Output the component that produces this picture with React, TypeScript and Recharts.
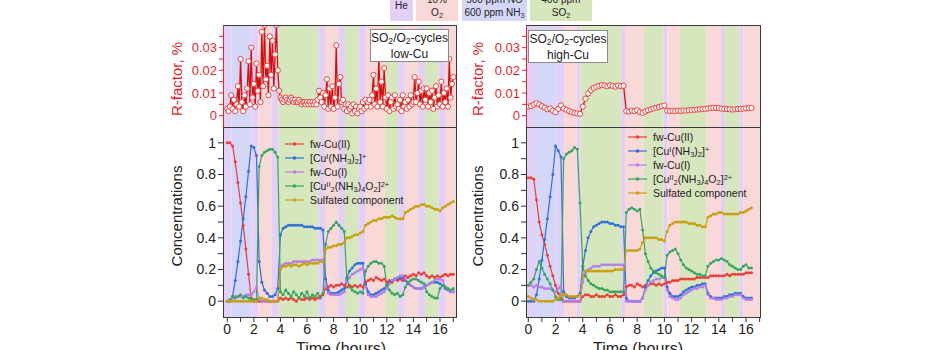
import React from 'react';
import { ComposedChart, Line, XAxis, YAxis, ReferenceArea } from 'recharts';

const FONT = '"Liberation Sans", Arial, Helvetica, sans-serif';

const RED = '#ef3b36';
const BLUE = '#2f6fdc';
const PURPLE = '#b67ee8';
const GREEN = '#34a65e';
const GOLD = '#c8a00c';
const RF_RED = '#e3262c';

const GAS_COLORS: Record<string, string> = {
  He: '#e2d0f6',
  O2: '#f9d9d8',
  NO: '#d4d7f7',
  SO2: '#d6e6bd',
};

// sampling interval of the fitted spectra, hours
const CONC_STEP = 0.2;
const R_LOW_STEP = 0.1;
const R_HIGH_STEP = 0.2;

// ---- low-Cu ----
const lowBandEdges = [-0.32, 0.33, 1.83, 2.33, 3.33, 3.84, 6.85, 7.35, 8.35, 8.86, 9.86, 10.36, 11.86, 12.86, 13.36, 14.37, 14.87, 15.88, 16.38, 17.28];
const lowBandGas = ['He', 'NO', 'He', 'O2', 'He', 'SO2', 'He', 'O2', 'He', 'SO2', 'He', 'O2', 'SO2', 'He', 'O2', 'He', 'SO2', 'He', 'O2'];

const lowR = [
  0.003, 0.002, 0.004, 0.009, 0.003, 0.007, 0.002, 0.005, 0.013, 0.004,
  0.025, 0.006, 0.002, 0.009, 0.004, 0.012, 0.024, 0.005, 0.030, 0.008,
  0.014, 0.004, 0.023, 0.011, 0.018, 0.006, 0.037, 0.013, 0.040, 0.016,
  0.022, 0.009, 0.035, 0.018, 0.033, 0.012, 0.027, 0.040, 0.020, 0.011,
  0.008, 0.007, 0.006, 0.007, 0.008, 0.007, 0.006, 0.007, 0.008, 0.007,
  0.006, 0.007, 0.006, 0.006, 0.007, 0.006, 0.005, 0.006, 0.006, 0.005,
  0.006, 0.005, 0.006, 0.005, 0.006, 0.005, 0.006, 0.005, 0.007, 0.011,
  0.008, 0.006, 0.010, 0.004, 0.009, 0.016, 0.003, 0.012, 0.004, 0.013,
  0.003, 0.008, 0.031, 0.004, 0.014, 0.017, 0.006, 0.007, 0.003, 0.005,
  0.002, 0.005, 0.003, 0.004, 0.001, 0.005, 0.002, 0.004, 0.001, 0.003,
  0.004, 0.002, 0.006, 0.003, 0.007, 0.004, 0.006, 0.007, 0.004, 0.009,
  0.018, 0.005, 0.012, 0.004, 0.026, 0.006, 0.015, 0.004, 0.021, 0.008,
  0.003, 0.009, 0.002, 0.006, 0.008, 0.003, 0.009, 0.004, 0.005, 0.003,
  0.007, 0.002, 0.009, 0.004, 0.006, 0.003, 0.007, 0.004, 0.009, 0.005,
  0.006, 0.017, 0.006, 0.010, 0.015, 0.005, 0.011, 0.004, 0.012, 0.007,
  0.012, 0.004, 0.010, 0.006, 0.011, 0.003, 0.008, 0.013, 0.004, 0.009,
  0.005, 0.015, 0.004, 0.010, 0.006, 0.012, 0.004, 0.025, 0.008, 0.014,
  0.017,
];

const lowCu2 = [
  1.00, 1.00, 0.98, 0.88, 0.75, 0.62, 0.48, 0.33, 0.17, 0.02, 0.00, 0.00, 0.00, 0.00, 0.00, 0.00, 0.00, 0.00, 0.00, 0.00,
  0.02, 0.01, 0.02, 0.01, 0.02, 0.01, 0.00, 0.02, 0.01, 0.01, 0.02, 0.01, 0.02, 0.01, 0.02, 0.03, 0.04,
  0.08, 0.09, 0.10, 0.09, 0.10, 0.10, 0.11, 0.10,
  0.09, 0.10, 0.09, 0.10, 0.09, 0.10, 0.09,
  0.12, 0.13, 0.14, 0.13, 0.15, 0.14, 0.13, 0.14,
  0.12, 0.13, 0.12, 0.14, 0.13, 0.14, 0.13,
  0.16, 0.15, 0.16, 0.17, 0.16, 0.18, 0.17, 0.18,
  0.16, 0.15, 0.16, 0.15, 0.16,
  0.15, 0.16, 0.17, 0.16, 0.17, 0.17,
];
const lowCuNH3 = [
  0.00, 0.00, 0.03, 0.13, 0.25, 0.38, 0.52, 0.66, 0.82, 0.98, 0.97, 0.92, 0.25, 0.12, 0.07, 0.05, 0.03, 0.03, 0.04, 0.08,
  0.42, 0.46, 0.47, 0.48, 0.48, 0.48, 0.48, 0.48, 0.48, 0.47, 0.47, 0.47, 0.47, 0.46, 0.46, 0.46, 0.45,
  0.14, 0.07, 0.05, 0.05, 0.05, 0.06, 0.07, 0.08,
  0.15, 0.19, 0.21, 0.23, 0.24, 0.24, 0.24,
  0.11, 0.06, 0.04, 0.04, 0.05, 0.06, 0.07, 0.08,
  0.10, 0.12, 0.13, 0.14, 0.14, 0.15, 0.15,
  0.13, 0.11, 0.10, 0.09, 0.08, 0.08, 0.08, 0.09,
  0.10, 0.11, 0.12, 0.12, 0.12,
  0.11, 0.10, 0.08, 0.07, 0.06, 0.06,
];
const lowCu1 = [
  0.00, 0.00, 0.02, 0.03, 0.03, 0.03, 0.03, 0.04, 0.04, 0.04, 0.06, 0.09, 0.01, 0.00, 0.00, 0.00, 0.00, 0.00, 0.00, 0.00,
  0.22, 0.23, 0.24, 0.24, 0.24, 0.25, 0.25, 0.25, 0.25, 0.25, 0.25, 0.25, 0.26, 0.26, 0.26, 0.26, 0.26,
  0.09, 0.05, 0.04, 0.04, 0.04, 0.04, 0.05, 0.06,
  0.12, 0.15, 0.17, 0.18, 0.19, 0.20, 0.21,
  0.09, 0.04, 0.03, 0.03, 0.03, 0.04, 0.05, 0.06,
  0.08, 0.11, 0.13, 0.14, 0.15, 0.16, 0.16,
  0.14, 0.12, 0.10, 0.09, 0.08, 0.08, 0.08, 0.09,
  0.10, 0.11, 0.12, 0.13, 0.14,
  0.14, 0.13, 0.09, 0.07, 0.06, 0.06,
];
const lowCuO2 = [
  0.00, 0.01, 0.03, 0.02, 0.03, 0.04, 0.02, 0.03, 0.02, 0.01, 0.01, 0.01, 0.85, 0.92, 0.94, 0.95, 0.96, 0.96, 0.94, 0.91,
  0.06, 0.04, 0.07, 0.05, 0.03, 0.06, 0.04, 0.02, 0.05, 0.03, 0.06, 0.02, 0.04, 0.03, 0.05, 0.02, 0.05,
  0.36, 0.44, 0.46, 0.48, 0.50, 0.48, 0.46, 0.44,
  0.14, 0.09, 0.07, 0.06, 0.05, 0.06, 0.05,
  0.19, 0.22, 0.24, 0.25, 0.25, 0.24, 0.24, 0.22,
  0.10, 0.07, 0.05, 0.04, 0.05, 0.03, 0.04,
  0.09, 0.12, 0.13, 0.14, 0.14, 0.13, 0.12, 0.11,
  0.06, 0.04, 0.03, 0.02, 0.02,
  0.08, 0.10, 0.09, 0.08, 0.07, 0.08,
];
const lowSulf = [
  0.00, 0.00, 0.00, 0.00, 0.00, 0.00, 0.00, 0.00, 0.00, 0.00, 0.00, 0.00, 0.02, 0.02, 0.01, 0.01, 0.00, 0.00, 0.00, 0.00,
  0.20, 0.22, 0.22, 0.23, 0.22, 0.23, 0.23, 0.22, 0.23, 0.24, 0.23, 0.24, 0.24, 0.24, 0.24, 0.25, 0.25,
  0.33, 0.34, 0.34, 0.35, 0.35, 0.36, 0.36, 0.37,
  0.40, 0.40, 0.41, 0.42, 0.42, 0.43, 0.44,
  0.48, 0.49, 0.50, 0.51, 0.51, 0.52, 0.52, 0.53,
  0.53, 0.53, 0.54, 0.53, 0.52, 0.52, 0.52,
  0.56, 0.57, 0.58, 0.59, 0.60, 0.60, 0.61, 0.61,
  0.60, 0.60, 0.59, 0.58, 0.58,
  0.57, 0.59, 0.60, 0.61, 0.62, 0.63,
];

// ---- high-Cu ----
const hiBandEdges = [-0.17, 0.57, 2.09, 2.63, 3.56, 3.85, 6.82, 7.11, 8.46, 9.93, 10.22, 11.15, 13.07, 14.15, 14.46, 15.51, 15.8, 17.1];
const hiBandGas = ['He', 'NO', 'He', 'O2', 'He', 'SO2', 'He', 'O2', 'SO2', 'He', 'O2', 'SO2', 'O2', 'He', 'SO2', 'He', 'O2'];

const hiR = [
  0.0040, 0.0042, 0.0048, 0.0055, 0.0050, 0.0042, 0.0035, 0.0028, 0.0032, 0.0022,
  0.0015, 0.0030, 0.0045, 0.0032, 0.0026, 0.0020, 0.0015, 0.0012, 0.0010, 0.0008,
  0.0040, 0.0075, 0.0098, 0.0112, 0.0122, 0.0128, 0.0132, 0.0135, 0.0133, 0.0130,
  0.0134, 0.0131, 0.0128, 0.0133, 0.0130, 0.0132, 0.0020, 0.0018, 0.0022, 0.0020,
  0.0024, 0.0016, 0.0012, 0.0018, 0.0024, 0.0028, 0.0032, 0.0035, 0.0038, 0.0042,
  0.0045, 0.0022, 0.0020, 0.0021, 0.0020, 0.0022, 0.0021, 0.0023, 0.0022, 0.0024,
  0.0025, 0.0026, 0.0027, 0.0028, 0.0029, 0.0030, 0.0032, 0.0034, 0.0035, 0.0034,
  0.0033, 0.0031, 0.0030, 0.0029, 0.0028, 0.0027, 0.0028, 0.0029, 0.0030, 0.0031,
  0.0032, 0.0033, 0.0034,
];

const hiCu2 = [
  0.78, 0.78, 0.77, 0.64, 0.50, 0.42, 0.36, 0.29, 0.22, 0.16, 0.10, 0.05, 0.02, 0.00, 0.00, 0.00, 0.00, 0.00, 0.00, 0.00,
  0.03, 0.04, 0.04, 0.03, 0.03, 0.04, 0.03, 0.03, 0.03, 0.04, 0.03, 0.03, 0.04, 0.03, 0.03, 0.04,
  0.09, 0.10, 0.10, 0.09, 0.11, 0.10,
  0.09, 0.10, 0.10, 0.11, 0.11, 0.10, 0.11, 0.10, 0.11,
  0.12, 0.12, 0.13, 0.13, 0.13, 0.14, 0.14, 0.14, 0.14, 0.14, 0.14, 0.15, 0.15, 0.15, 0.15,
  0.15, 0.16, 0.16, 0.16, 0.16, 0.16, 0.16, 0.17, 0.16, 0.17, 0.17, 0.17, 0.17, 0.17, 0.18, 0.18, 0.18,
];
const hiCuNH3 = [
  0.00, 0.00, 0.00, 0.04, 0.14, 0.26, 0.39, 0.52, 0.66, 0.80, 0.98, 0.95, 0.91, 0.06, 0.03, 0.02, 0.02, 0.02, 0.03, 0.05,
  0.22, 0.32, 0.40, 0.44, 0.47, 0.48, 0.49, 0.50, 0.50, 0.50, 0.49, 0.49, 0.48, 0.48, 0.47, 0.47,
  0.02, 0.00, 0.00, 0.00, 0.00, 0.00,
  0.02, 0.09, 0.13, 0.16, 0.18, 0.19, 0.20, 0.21, 0.21,
  0.09, 0.05, 0.03, 0.03, 0.03, 0.04, 0.06, 0.07, 0.08, 0.09, 0.09, 0.10, 0.10, 0.11, 0.11,
  0.05, 0.03, 0.02, 0.02, 0.02, 0.02, 0.03, 0.03, 0.04, 0.04, 0.05, 0.05, 0.05, 0.03, 0.02, 0.02, 0.02,
];
const hiCu1 = [
  0.10, 0.10, 0.09, 0.10, 0.09, 0.09, 0.08, 0.08, 0.08, 0.07, 0.06, 0.08, 0.10, 0.00, 0.00, 0.00, 0.00, 0.00, 0.00, 0.00,
  0.12, 0.18, 0.20, 0.21, 0.22, 0.22, 0.22, 0.23, 0.23, 0.23, 0.23, 0.23, 0.23, 0.23, 0.23, 0.23,
  0.00, 0.00, 0.00, 0.00, 0.00, 0.00,
  0.02, 0.07, 0.10, 0.12, 0.13, 0.14, 0.14, 0.15, 0.15,
  0.07, 0.03, 0.02, 0.01, 0.01, 0.02, 0.04, 0.05, 0.06, 0.07, 0.08, 0.08, 0.09, 0.09, 0.10,
  0.04, 0.02, 0.02, 0.01, 0.01, 0.01, 0.02, 0.02, 0.03, 0.03, 0.04, 0.04, 0.04, 0.02, 0.01, 0.01, 0.01,
];
const hiCuO2 = [
  0.10, 0.12, 0.14, 0.20, 0.25, 0.21, 0.17, 0.14, 0.11, 0.07, 0.03, 0.01, 0.01, 0.90, 0.93, 0.94, 0.95, 0.97, 0.96, 0.62,
  0.22, 0.16, 0.13, 0.11, 0.10, 0.09, 0.08, 0.08, 0.07, 0.07, 0.06, 0.06, 0.06, 0.06, 0.06, 0.06,
  0.56, 0.58, 0.59, 0.58, 0.57, 0.58,
  0.45, 0.30, 0.25, 0.21, 0.19, 0.18, 0.17, 0.16, 0.15,
  0.29, 0.31, 0.32, 0.33, 0.30, 0.26, 0.23, 0.21, 0.20, 0.19, 0.18, 0.17, 0.17, 0.16, 0.16,
  0.22, 0.24, 0.25, 0.26, 0.26, 0.27, 0.26, 0.25, 0.23, 0.22, 0.21, 0.20, 0.20, 0.22, 0.23, 0.21, 0.21,
];
const hiSulf = [
  0.03, 0.02, 0.01, 0.01, 0.00, 0.00, 0.00, 0.00, 0.00, 0.00, 0.01, 0.02, 0.03, 0.04, 0.04, 0.03, 0.03, 0.03, 0.03, 0.04,
  0.16, 0.19, 0.19, 0.19, 0.19, 0.19, 0.19, 0.19, 0.19, 0.19, 0.19, 0.19, 0.20, 0.20, 0.20, 0.20,
  0.32, 0.32, 0.32, 0.32, 0.32, 0.33,
  0.37, 0.40, 0.40, 0.40, 0.40, 0.40, 0.39, 0.39, 0.38,
  0.44, 0.48, 0.49, 0.50, 0.50, 0.50, 0.50, 0.50, 0.49, 0.49, 0.49, 0.48, 0.48, 0.47, 0.47,
  0.53, 0.54, 0.55, 0.55, 0.56, 0.56, 0.55, 0.55, 0.55, 0.55, 0.55, 0.55, 0.56, 0.56, 0.57, 0.58, 0.59,
];

const X_TICKS = [0, 1, 2, 3, 4, 5, 6, 7, 8, 9, 10, 11, 12, 13, 14, 15, 16, 17];
const R_TICKS = [0, 0.005, 0.01, 0.015, 0.02, 0.025, 0.03, 0.035];
const C_TICKS = [0, 0.1, 0.2, 0.3, 0.4, 0.5, 0.6, 0.7, 0.8, 0.9, 1];

const fmtX = (v: number) => (v % 2 === 0 ? String(v) : '');
const fmtR = (v: number) => {
  const k = Math.round(v * 1000);
  if (k % 10 !== 0) return '';
  return k === 0 ? '0' : (k / 1000).toFixed(2);
};
const fmtC = (v: number) => {
  const k = Math.round(v * 10);
  if (k % 2 !== 0) return '';
  if (k === 0) return '0';
  if (k === 10) return '1';
  return (k / 10).toFixed(1);
};

const concRows = (cu2: number[], cuNH3: number[], cu1: number[], cuO2: number[], sulf: number[]) =>
  cu2.map((v, i) => ({
    t: Math.round(i * CONC_STEP * 100) / 100,
    cu2: v,
    cuNH3: cuNH3[i],
    cu1: cu1[i],
    cuO2: cuO2[i],
    sulf: sulf[i],
  }));
const rRows = (r: number[], step: number) => r.map((v, i) => ({ t: Math.round(i * step * 100) / 100, r: v }));

const SERIES = [
  { key: 'cu2', color: RED },
  { key: 'cuNH3', color: BLUE },
  { key: 'cu1', color: PURPLE },
  { key: 'cuO2', color: GREEN },
  { key: 'sulf', color: GOLD },
];

const sub = { fontSize: '0.72em', verticalAlign: '-0.25em', lineHeight: 0 };
const sup = { fontSize: '0.72em', verticalAlign: '0.45em', lineHeight: 0 };

const LEGEND_LABELS = [
  <>fw-Cu(II)</>,
  <>[Cu<span style={sup}>I</span>(NH<span style={sub}>3</span>)<span style={sub}>2</span>]<span style={sup}>+</span></>,
  <>fw-Cu(I)</>,
  <>[Cu<span style={sup}>II</span><span style={sub}>2</span>(NH<span style={sub}>3</span>)<span style={sub}>4</span>O<span style={sub}>2</span>]<span style={sup}>2+</span></>,
  <>Sulfated component</>,
];

const TOP_Y = 25;
const TOP_H = 102;
const BOT_Y = 127;
const BOT_H = 190;
const AXIS_W = 60;

type PanelCfg = {
  left: number;
  width: number;
  domain: [number, number];
  edges: number[];
  gases: string[];
  r: { t: number; r: number }[];
  rows: any[];
  tag: string;
  tagBox: { left: number; top: number; width: number; height: number };
  legend: { left: number; top: number };
  titleX: number;
  timeX: number;
};

function Bands({ edges, gases, y1, y2 }: { edges: number[]; gases: string[]; y1: number; y2: number }) {
  return null;
}

function Panel({ cfg }: { cfg: PanelCfg }) {
  const bands = cfg.gases.map((g, i) => ({ x1: cfg.edges[i], x2: cfg.edges[i + 1], fill: GAS_COLORS[g] }));
  const abs = (l: number, t: number): React.CSSProperties => ({ position: 'absolute', left: l, top: t });

  return (
    <>
      {/* R-factor */}
      <div style={abs(cfg.left - AXIS_W, TOP_Y)}>
        <ComposedChart width={AXIS_W + cfg.width} height={TOP_H} data={cfg.r} margin={{ top: 0, right: 0, bottom: 0, left: 0 }}>
          <XAxis type="number" dataKey="t" domain={cfg.domain} allowDataOverflow hide />
          <YAxis
            type="number"
            domain={[-0.005, 0.04]}
            allowDataOverflow
            ticks={R_TICKS}
            interval={0}
            tickFormatter={fmtR}
            width={AXIS_W}
            axisLine={false}
            tickSize={4}
            tickLine={{ stroke: RF_RED }}
            tick={{ fill: RF_RED, fontSize: 13, fontFamily: FONT }}
          />
          {bands.map((b, i) => (
            <ReferenceArea key={i} x1={b.x1} x2={b.x2} y1={-0.005} y2={0.04} fill={b.fill} fillOpacity={1} stroke="none" ifOverflow="hidden" />
          ))}
          <Line
            dataKey="r"
            type="linear"
            stroke="#d40d0d"
            strokeWidth={1.3}
            dot={{ r: 2.6, fill: '#fff', stroke: '#e8433f', strokeWidth: 1 }}
            activeDot={false}
            isAnimationActive={false}
          />
        </ComposedChart>
      </div>

      {/* Concentrations */}
      <div style={abs(cfg.left - AXIS_W, BOT_Y)}>
        <ComposedChart width={AXIS_W + cfg.width} height={BOT_H + 30} data={cfg.rows} margin={{ top: 0, right: 0, bottom: 0, left: 0 }}>
          <XAxis
            type="number"
            dataKey="t"
            domain={cfg.domain}
            allowDataOverflow
            ticks={X_TICKS}
            interval={0}
            tickFormatter={fmtX}
            height={30}
            axisLine={false}
            tickSize={5}
            tickLine={{ stroke: '#333' }}
            tick={{ fill: '#222', fontSize: 14, fontFamily: FONT }}
          />
          <XAxis
            xAxisId="top"
            orientation="top"
            type="number"
            dataKey="t"
            domain={cfg.domain}
            allowDataOverflow
            ticks={X_TICKS}
            interval={0}
            mirror
            height={0}
            axisLine={false}
            tick={false}
            tickSize={4}
            tickLine={{ stroke: '#333' }}
          />
          <YAxis
            type="number"
            domain={[-0.1, 1.1]}
            allowDataOverflow
            ticks={C_TICKS}
            interval={0}
            tickFormatter={fmtC}
            width={AXIS_W}
            axisLine={false}
            tickSize={5}
            tickLine={{ stroke: '#333' }}
            tick={{ fill: '#222', fontSize: 14, fontFamily: FONT }}
          />
          {bands.map((b, i) => (
            <ReferenceArea key={i} x1={b.x1} x2={b.x2} y1={-0.1} y2={1.1} fill={b.fill} fillOpacity={1} stroke="none" ifOverflow="hidden" />
          ))}
          {SERIES.map((s) => (
            <Line
              key={s.key}
              dataKey={s.key}
              type="linear"
              stroke={s.color}
              strokeWidth={1.2}
              dot={{ r: 1.5, fill: s.color, stroke: s.color, strokeWidth: 0 }}
              activeDot={false}
              isAnimationActive={false}
            />
          ))}
        </ComposedChart>
      </div>

      {/* frames */}
      <div
        style={{
          ...abs(cfg.left, TOP_Y),
          width: cfg.width,
          height: TOP_H + 1,
          boxSizing: 'border-box',
          border: '1px solid #3a3a3a',
          borderLeftColor: RF_RED,
        }}
      />
      <div
        style={{
          ...abs(cfg.left, BOT_Y),
          width: cfg.width,
          height: BOT_H + 1,
          boxSizing: 'border-box',
          border: '1px solid #3a3a3a',
        }}
      />

      {/* tag box */}
      <div
        style={{
          ...abs(cfg.tagBox.left, cfg.tagBox.top),
          width: cfg.tagBox.width,
          height: cfg.tagBox.height,
          boxSizing: 'border-box',
          background: '#fff',
          border: '1px solid #8a8a8a',
          fontFamily: FONT,
          fontSize: 12,
          lineHeight: '16px',
          color: '#222',
          textAlign: 'center',
          paddingTop: 0,
        }}
      >
        <div>
          SO<span style={sub}>2</span>/O<span style={sub}>2</span>-cycles
        </div>
        <div>{cfg.tag}</div>
      </div>

      {/* legend */}
      <div style={{ ...abs(cfg.legend.left, cfg.legend.top), fontFamily: FONT, fontSize: 10.5, color: '#222' }}>
        {SERIES.map((s, i) => (
          <div key={s.key} style={{ display: 'flex', alignItems: 'center', height: 14, whiteSpace: 'nowrap' }}>
            <svg width={20} height={8} style={{ marginRight: 5 }}>
              <line x1={0} y1={4} x2={19} y2={4} stroke={s.color} strokeWidth={1.2} />
              <circle cx={9.5} cy={4} r={1.8} fill={s.color} />
            </svg>
            <span>{LEGEND_LABELS[i]}</span>
          </div>
        ))}
      </div>

      {/* axis titles */}
      <div
        style={{
          ...abs(cfg.titleX, 79),
          transform: 'translate(-50%, -50%) rotate(-90deg)',
          whiteSpace: 'nowrap',
          fontFamily: FONT,
          fontSize: 15,
          color: RF_RED,
        }}
      >
        R-factor, %
      </div>
      <div
        style={{
          ...abs(cfg.titleX, 216),
          transform: 'translate(-50%, -50%) rotate(-90deg)',
          whiteSpace: 'nowrap',
          fontFamily: FONT,
          fontSize: 15,
          color: '#222',
        }}
      >
        Concentrations
      </div>
      <div
        style={{
          ...abs(cfg.timeX, 341),
          transform: 'translateX(-50%)',
          whiteSpace: 'nowrap',
          fontFamily: FONT,
          fontSize: 16,
          lineHeight: '16px',
          color: '#222',
        }}
      >
        Time (hours)
      </div>
    </>
  );
}

const GAS_LEGEND = [
  { gas: 'He', left: 390, width: 23, lines: [<>He</>] },
  { gas: 'O2', left: 416, width: 42, lines: [<>10%</>, <>O<span style={sub}>2</span></>] },
  { gas: 'NO', left: 462, width: 65, lines: [<>500 ppm NO</>, <>600 ppm NH<span style={sub}>3</span></>] },
  { gas: 'SO2', left: 530, width: 62, lines: [<>400 ppm</>, <>SO<span style={sub}>2</span></>] },
];

export default function App() {
  const low: PanelCfg = {
    left: 223,
    width: 234,
    domain: [-0.32, 17.28],
    edges: lowBandEdges,
    gases: lowBandGas,
    r: rRows(lowR, R_LOW_STEP),
    rows: concRows(lowCu2, lowCuNH3, lowCu1, lowCuO2, lowSulf),
    tag: 'low-Cu',
    tagBox: { left: 370, top: 29, width: 79, height: 33 },
    legend: { left: 285, top: 137 },
    titleX: 176,
    timeX: 341,
  };
  const high: PanelCfg = {
    left: 526,
    width: 235,
    domain: [-0.17, 17.1],
    edges: hiBandEdges,
    gases: hiBandGas,
    r: rRows(hiR, R_HIGH_STEP),
    rows: concRows(hiCu2, hiCuNH3, hiCu1, hiCuO2, hiSulf),
    tag: 'high-Cu',
    tagBox: { left: 528, top: 30, width: 80, height: 33 },
    legend: { left: 628, top: 130 },
    titleX: 477,
    timeX: 638,
  };

  return (
    <div style={{ position: 'absolute', left: 0, top: 0, width: 930, height: 350, overflow: 'hidden', background: '#fff' }}>
      {GAS_LEGEND.map((g) => (
        <div
          key={g.gas}
          style={{
            position: 'absolute',
            left: g.left,
            top: -10,
            width: g.width,
            height: 31,
            background: GAS_COLORS[g.gas],
            display: 'flex',
            flexDirection: 'column',
            justifyContent: 'center',
            alignItems: 'center',
            fontFamily: FONT,
            fontSize: 10,
            lineHeight: '13px',
            color: '#222',
            whiteSpace: 'nowrap',
          }}
        >
          {g.lines.map((l, i) => (
            <div key={i}>{l}</div>
          ))}
        </div>
      ))}
      <Panel cfg={low} />
      <Panel cfg={high} />
    </div>
  );
}
